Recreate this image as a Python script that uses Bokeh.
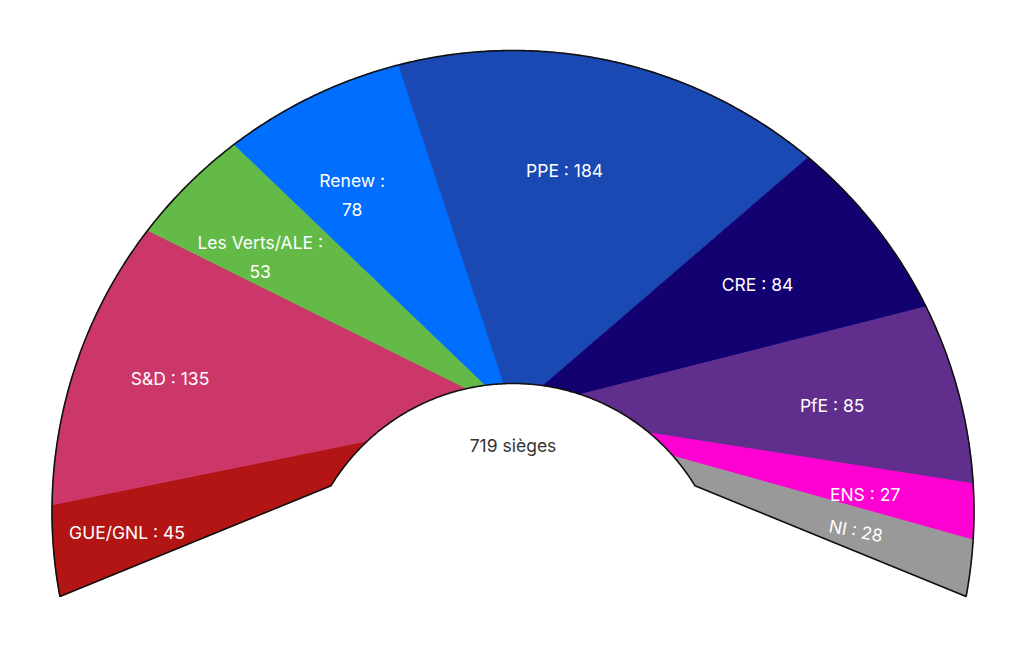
import numpy as np
from bokeh.plotting import figure
from bokeh.models import Range1d, ColumnDataSource
from bokeh.embed import file_html
from bokeh.resources import INLINE
from bokeh.core.properties import value

# ---------------- data ----------------
parties = ["GUE/GNL", "S&D", "Les Verts/ALE", "Renew", "PPE", "CRE", "PfE", "ENS", "NI"]
seats = [45, 135, 53, 78, 184, 84, 85, 27, 28]
colors = ["#B31515", "#CC3769", "#63BA47", "#006EFF", "#1A49B3",
          "#130071", "#602F8E", "#FF00D2", "#999999"]
unit_label = "sièges"

# ---------------- layout (pixel-like units, y pointing down) ----------------
W, H = 1008, 638
PC = np.array([512.5, 596.0])     # hub of the half circle
OC = np.array([512.5, 511.0])     # centre of the outer rim
R_OUT = 461.0
APEX = np.array([512.5, 411.0])   # point the slice edges run to
R_HOLE = 213.0
LABEL_POS = 0.69
LABEL_SHIFT = np.array([-18.0, 10.0])
label_nudge = {"ENS": (6.0, -6.0), "NI": (-8.0, -17.0)}
CENTER_TEXT_Y = 445.0
wrapped = {"Les Verts/ALE", "Renew"}
rotation = {"NI": -0.19}
FONT = "Inter"


def unit(theta):
    return np.array([np.sin(theta), -np.cos(theta)])


def ray_exit(origin, u, center, r):
    w = origin - center
    b = np.dot(w, u)
    c = np.dot(w, w) - r * r
    return -b + np.sqrt(b * b - c)


def bearing(pt, center):
    return np.arctan2(pt[0] - center[0], -(pt[1] - center[1]))


total = sum(seats)
cum = np.concatenate([[0.0], np.cumsum(seats)]) / total
thetas = np.radians(-90.0 + 180.0 * cum)
outer_pts = [PC + ray_exit(PC, unit(t), OC, R_OUT) * unit(t) for t in thetas]
phis = [bearing(pt, OC) for pt in outer_pts]


def rim(phi1, phi2):
    n = max(3, int(abs(np.degrees(phi2 - phi1)) * 3))
    ph = np.linspace(phi1, phi2, n)
    return OC[0] + R_OUT * np.sin(ph), OC[1] - R_OUT * np.cos(ph)

xs, ys = [], []
for k in range(len(seats)):
    ax, ay = rim(phis[k], phis[k + 1])
    xs.append([APEX[0]] + list(ax))
    ys.append([APEX[1]] + list(ay))

# label positions
lx, ly, labels, angles = [], [], [], []
for k, (party, s) in enumerate(zip(parties, seats)):
    b1 = bearing(outer_pts[k], APEX)
    b2 = bearing(outer_pts[k + 1], APEX)
    mid = 0.5 * (b1 + b2)
    u = unit(mid)
    d_o = ray_exit(APEX, u, OC, R_OUT)
    d_i = ray_exit(APEX, u, PC, R_HOLE)
    pos = APEX + (d_i + LABEL_POS * (d_o - d_i)) * u + LABEL_SHIFT
    pos = pos + np.array(label_nudge.get(party, (0.0, 0.0)))
    lx.append(pos[0])
    ly.append(pos[1])
    labels.append(f"{party} :\n{s}" if party in wrapped else f"{party} : {s}")
    angles.append(rotation.get(party, 0.0))

# hole edge points on the two end edges
def hole_hit(p_out):
    d = APEX - p_out
    w = p_out - PC
    a = np.dot(d, d)
    b = 2 * np.dot(w, d)
    c = np.dot(w, w) - R_HOLE ** 2
    t = (-b - np.sqrt(b * b - 4 * a * c)) / (2 * a)
    return p_out + t * d

IL = hole_hit(outer_pts[0])
IR = hole_hit(outer_pts[-1])
thL = bearing(IL, PC)
thR = bearing(IR, PC)

# outline path
ox, oy = rim(phis[0], phis[-1])
hth = np.linspace(thR, thL, 200)
hx = PC[0] + R_HOLE * np.sin(hth)
hy = PC[1] - R_HOLE * np.cos(hth)
out_x = list(ox) + [IR[0]] + list(hx) + [IL[0], outer_pts[0][0]]
out_y = list(oy) + [IR[1]] + list(hy) + [IL[1], outer_pts[0][1]]

# hole disc
dt = np.linspace(0, 2 * np.pi, 361)
disc_x = PC[0] + R_HOLE * np.sin(dt)
disc_y = PC[1] - R_HOLE * np.cos(dt)

# ---------------- figure ----------------
p = figure(width=W, height=H, x_range=Range1d(0, W), y_range=Range1d(H, 0),
           output_backend="svg", toolbar_location=None,
           x_axis_location=None, y_axis_location=None, min_border=0,
           outline_line_color=None, background_fill_color="white",
           border_fill_color="white")
p.grid.grid_line_color = None

src = ColumnDataSource(dict(xs=xs, ys=ys, color=colors, party=parties, seats=seats))
p.patches("xs", "ys", source=src, fill_color="color", line_color="color", line_width=0.8)

p.patch(disc_x, disc_y, fill_color="white", line_color=None)
p.line(out_x, out_y, line_color="#111111", line_width=1.6)

lsrc = ColumnDataSource(dict(x=lx, y=ly, text=labels, angle=angles))
p.text(x="x", y="y", text="text", angle="angle", source=lsrc,
       text_color="white", text_font=value(FONT), text_font_size="17.5px",
       text_align="center", text_baseline="middle", text_line_height=1.39)

p.text(x=[PC[0]], y=[CENTER_TEXT_Y], text=[f"{total} {unit_label}"],
       text_color="#333333", text_font=value(FONT), text_font_size="17.5px",
       text_align="center", text_baseline="middle")

open("out.html", "w").write(file_html(p, INLINE))
